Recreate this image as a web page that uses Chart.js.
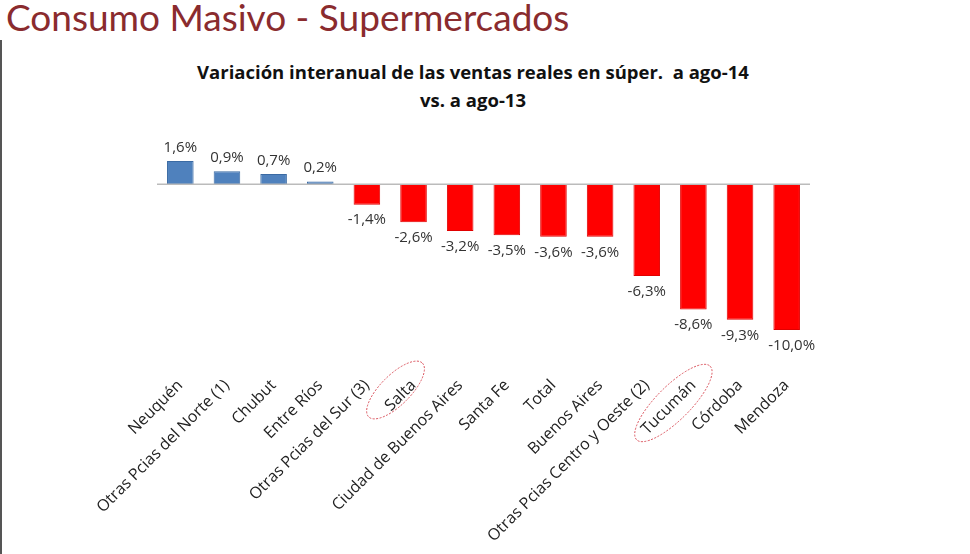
<!DOCTYPE html>
<html><head><meta charset="utf-8">
<script src="https://cdn.jsdelivr.net/npm/chart.js@4"></script>
<style>
html,body{margin:0;padding:0;background:#fff;width:970px;height:554px;overflow:hidden;}
#wrap{position:relative;width:970px;height:554px;}
#t1{position:absolute;left:6px;top:-6px;font:37px Lato,sans-serif;color:#8a2b2e;white-space:nowrap;}
#bar{position:absolute;left:0;top:40px;width:2px;height:514px;background:#555;}
#t2{position:absolute;left:0;width:946px;top:58px;text-align:center;font:bold 18.5px "Open Sans",sans-serif;color:#111;line-height:28px;}
canvas{position:absolute;left:0;top:0;}
</style></head><body><div id="wrap">
<div id="t1">Consumo Masivo - Supermercados</div><div id="bar"></div>
<div id="t2">Variación interanual de las ventas reales en súper.&nbsp; a ago-14<br>vs. a ago-13</div>
<canvas id="c" width="970" height="554"></canvas></div>
<script>
const categories=["Neuquén","Otras Pcias del Norte (1)","Chubut","Entre Ríos","Otras Pcias del Sur (3)","Salta","Ciudad de Buenos Aires","Santa Fe","Total","Buenos Aires","Otras Pcias Centro y Oeste (2)","Tucumán","Córdoba","Mendoza"];
const values=[1.6,0.9,0.7,0.2,-1.4,-2.6,-3.2,-3.5,-3.6,-3.6,-6.3,-8.6,-9.3,-10.0];
const fmt=v=>v.toFixed(1).replace('.',',')+'%';
const labelPlugin={id:'lbl',afterDatasetsDraw(ch){
  const ctx=ch.ctx,meta=ch.getDatasetMeta(0);
  ctx.save();ctx.font='15px "Open Sans",sans-serif';ctx.fillStyle='#333';ctx.textAlign='center';
  meta.data.forEach((b,i)=>{const v=values[i];
    if(v>=0){ctx.textBaseline='bottom';ctx.fillText(fmt(v),b.x,b.y-6);}
    else{ctx.textBaseline='top';ctx.fillText(fmt(v),b.x+(i==13?5:0),b.y+8);}});
  const xs=ch.scales.x;ctx.strokeStyle='#d9505a';ctx.lineWidth=1;ctx.setLineDash([2,1.5]);
  const ell=[[5,-18,35,38,15],[11,-20,48,52,17]];
  ell.forEach(([i,dx,dy,rx,ry])=>{const x=xs.getPixelForValue(i)+dx,y=xs.top+dy+25;
    ctx.beginPath();ctx.ellipse(x,y,rx,ry,-Math.PI/4,0,Math.PI*2);ctx.stroke();});
  ctx.restore();}};
new Chart(document.getElementById('c'),{type:'bar',
 data:{labels:categories,datasets:[{data:values,backgroundColor:values.map(v=>v>=0?'#4f81bd':'#ff0000'),borderColor:values.map(v=>v>=0?'#3a6aa3':'#e00000'),borderWidth:1,barPercentage:0.6,categoryPercentage:0.95}]},
 options:{responsive:false,animation:false,events:[],
  layout:{padding:{left:157,right:160,top:161,bottom:0}},
  plugins:{legend:{display:false},tooltip:{enabled:false}},
  scales:{
   y:{display:false,min:-10,max:1.6},
   x:{position:'bottom',grid:{display:false},border:{display:false},
     ticks:{minRotation:45,maxRotation:45,padding:38,color:'#222',font:{size:16,family:'"Open Sans",sans-serif'}},
     afterFit(s){s.height=224;}}
  }},
 plugins:[labelPlugin,{id:'zero',afterDatasetsDraw(ch){const y=ch.scales.y.getPixelForValue(0),c=ch.ctx;c.save();c.strokeStyle='#bbb';c.lineWidth=1.5;c.beginPath();c.moveTo(ch.chartArea.left,y);c.lineTo(ch.chartArea.right,y);c.stroke();c.restore();}}]
});
</script></body></html>
